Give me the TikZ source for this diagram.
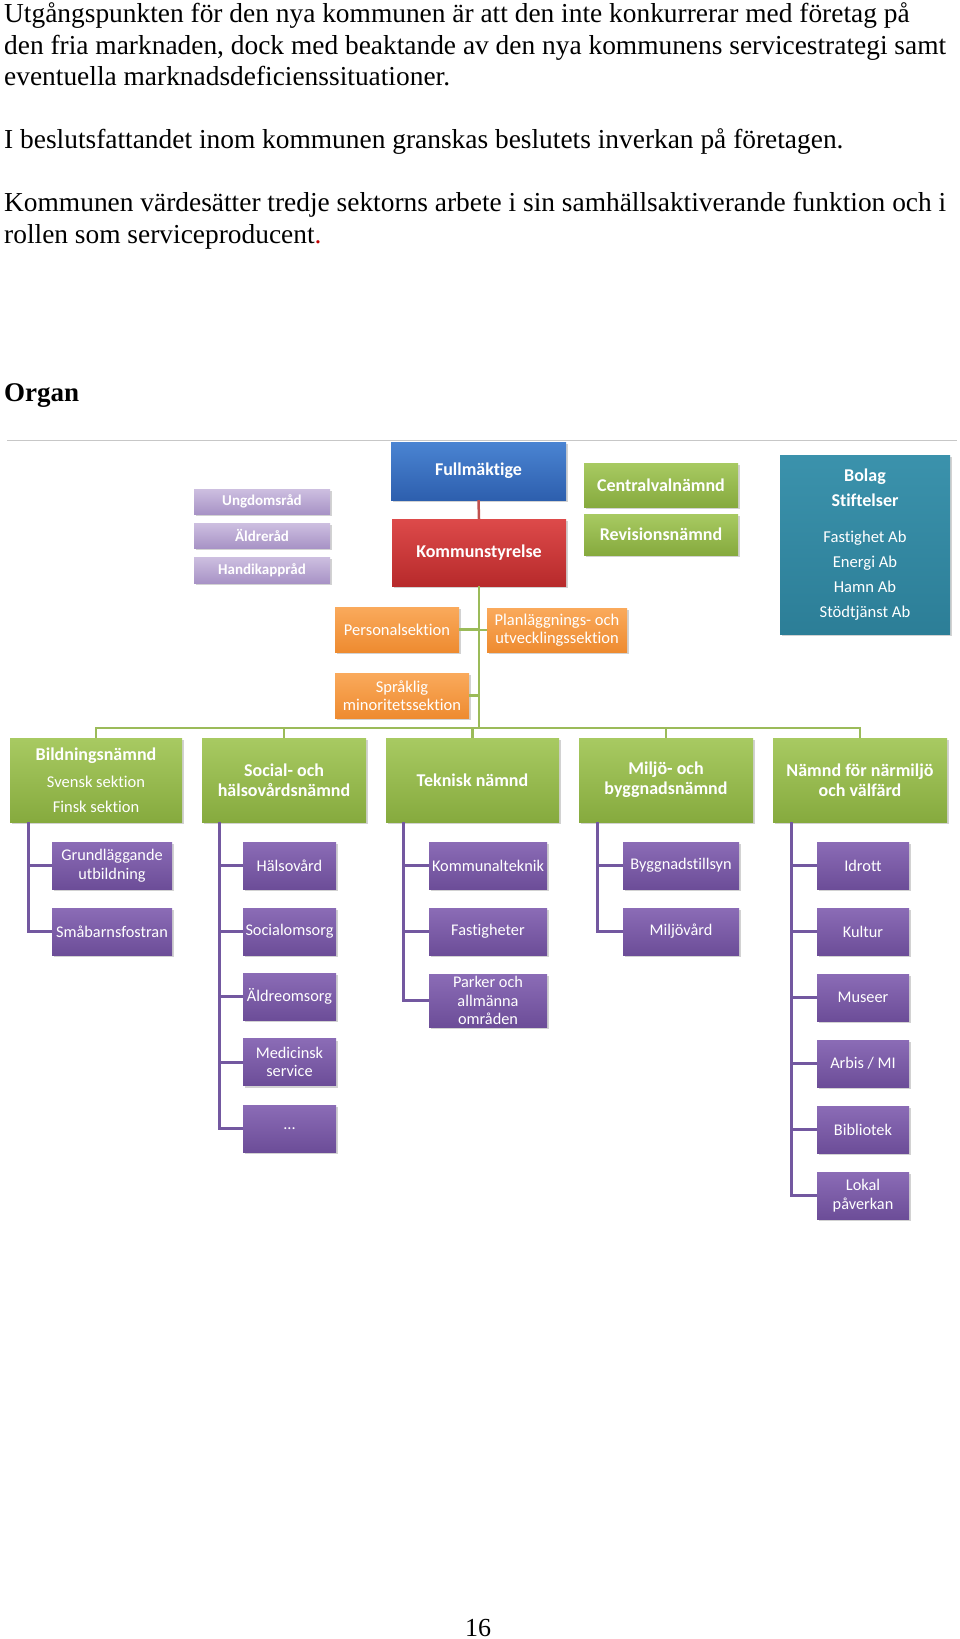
\documentclass[tikz,border=0pt]{standalone}
\usepackage{fontspec}
\setmainfont{Liberation Serif}
\newfontfamily\cbfont[Ligatures={NoCommon}]{Carlito}
\usetikzlibrary{shadows}
\definecolor{lavtop}{HTML}{CDBFE0}
\definecolor{lavbot}{HTML}{A893C6}
\definecolor{blutop}{HTML}{4A84D2}
\definecolor{blubot}{HTML}{2D5FAE}
\definecolor{redtop}{HTML}{DD4A4A}
\definecolor{redbot}{HTML}{B72A2B}
\definecolor{grntop}{HTML}{A8CA62}
\definecolor{grnbot}{HTML}{86AA3E}
\definecolor{orgtop}{HTML}{FAAA5C}
\definecolor{orgbot}{HTML}{EE8B30}
\definecolor{tealtop}{HTML}{3B92AC}
\definecolor{tealbot}{HTML}{2C7E97}
\definecolor{purtop}{HTML}{8B6CB6}
\definecolor{purbot}{HTML}{6C4D98}
\definecolor{purline}{HTML}{7358A0}
\definecolor{grnline}{HTML}{9BBB59}
\definecolor{redline}{HTML}{C0504D}
\definecolor{dotred}{HTML}{C00000}
\begin{document}
\begin{tikzpicture}[x=1pt,y=-1pt,
  body/.style={anchor=base west, inner sep=0pt, font=\fontsize{27.4}{31}\selectfont},
  box/.style={inner sep=1pt, align=center, text=white,
    drop shadow={opacity=0.35, shadow xshift=1.5pt, shadow yshift=-2pt}},
  lav/.style={box, top color=lavtop, bottom color=lavbot, font=\cbfont\bfseries\fontsize{15}{17}\selectfont},
  blu/.style={box, top color=blutop, bottom color=blubot, font=\cbfont\bfseries\fontsize{18}{20}\selectfont},
  rdb/.style={box, top color=redtop, bottom color=redbot, font=\cbfont\bfseries\fontsize{18}{20}\selectfont},
  grb/.style={box, top color=grntop, bottom color=grnbot, font=\cbfont\bfseries\fontsize{18}{20}\selectfont},
  orb/.style={box, top color=orgtop, bottom color=orgbot, font=\cbfont\fontsize{16.5}{18}\selectfont},
  tlb/.style={box, top color=tealtop, bottom color=tealbot, font=\cbfont\fontsize{16.6}{25}\selectfont},
  pub/.style={box, top color=purtop, bottom color=purbot, font=\cbfont\fontsize{16.3}{18.5}\selectfont},
  pline/.style={draw=purline, line width=3pt},
  gline/.style={draw=grnline, line width=2.5pt},
  rline/.style={draw=redline, line width=2.5pt}
]
\fill[white] (0,0) rectangle (960,1639);
\useasboundingbox (0,0) rectangle (960,1639);

% ---------- body text ----------
\node[body] (t1) at (4,22.5) {Utgångspunkten för den nya kommunen är att den inte konkurrerar med företag på};
\node[body] (t2) at (4,54) {den fria marknaden, dock med beaktande av den nya kommunens servicestrategi samt};
\node[body] (t3) at (4,85) {eventuella marknadsdeficienssituationer.};
\node[body] (t4) at (4,148.5) {I beslutsfattandet inom kommunen granskas beslutets inverkan på företagen.};
\node[body] (t5) at (4,211.5) {Kommunen värdesätter tredje sektorns arbete i sin samhällsaktiverande funktion och i};
\node[body] (t6) at (4,243) {rollen som serviceproducent\textcolor{dotred}{.}};
\node[body, font=\fontsize{27}{30}\selectfont\bfseries] (org) at (4,401.5) {Organ};
\node[anchor=base, inner sep=0pt, font=\fontsize{26}{30}\selectfont] (pg) at (478,1636) {16};

% gray rule
\coordinate (ruleA) at (7,440.5);
\coordinate (ruleB) at (957,440.5);
\draw[draw=black!22, line width=1.5pt] (ruleA) -- (ruleB);

% ---------- top level ----------
\node[lav, minimum width=136, minimum height=25] (ung) at (262,501.5) {Ungdomsråd};
\node[lav, minimum width=136, minimum height=25] (ald) at (262,535.5) {Äldreråd};
\node[lav, minimum width=136, minimum height=26] (hand) at (262,570) {Handikappråd};

\node[blu, minimum width=175, minimum height=58] (full) at (478.5,471) {Fullmäktige};
\node[rdb, minimum width=174, minimum height=67] (ks) at (479,552.5) {Kommunstyrelse};

\node[grb, minimum width=154, minimum height=44] (cvn) at (661,485) {Centralvalnämnd};
\node[grb, minimum width=154, minimum height=41] (rev) at (661,534.5) {Revisionsnämnd};

\node[tlb, minimum width=170, minimum height=179] (bolag) at (865,544.5)
  {{\bfseries\fontsize{18}{27}\selectfont Bolag}\\{\bfseries\fontsize{18}{27}\selectfont Stiftelser}\\[11pt]Fastighet Ab\\Energi Ab\\Hamn Ab\\Stödtjänst Ab};

\node[orb, minimum width=124, minimum height=45] (pers) at (397,629.5) {Personalsektion};
\node[orb, minimum width=140, minimum height=44] (plan) at (557,630) {Planläggnings- och\\utvecklingssektion};
\node[orb, minimum width=134, minimum height=45] (spr) at (402,695.5) {Språklig\\minoritetssektion};

% ---------- nämnder ----------
\node[grb, minimum width=172, minimum height=84] (bild) at (96,780)
  {Bildningsnämnd\\[7pt]{\mdseries\fontsize{16.5}{25}\selectfont Svensk sektion}\\[5pt]{\mdseries\fontsize{16.5}{25}\selectfont Finsk sektion}};
\node[grb, minimum width=164, minimum height=84] (soc) at (284,780) {Social- och\\hälsovårdsnämnd};
\node[grb, minimum width=173, minimum height=84] (tek) at (472.5,780) {Teknisk nämnd};
\node[grb, minimum width=174, minimum height=84] (milj) at (666,780) {Miljö- och\\byggnadsnämnd};
\node[grb, minimum width=174, minimum height=84] (narm) at (860,780) {Nämnd för närmiljö\\och välfärd};

% ---------- purple units ----------
\node[pub, minimum width=120, minimum height=47] (grund) at (112,865.5) {Grundläggande\\utbildning};
\node[pub, minimum width=120, minimum height=47] (smab) at (112,931.5) {Småbarnsfostran};

\node[pub, minimum width=93, minimum height=47] (hals) at (289.5,865.5) {Hälsovård};
\node[pub, minimum width=93, minimum height=47] (soco) at (289.5,931.5) {Socialomsorg};
\node[pub, minimum width=93, minimum height=47] (aldo) at (289.5,996.5) {Äldreomsorg};
\node[pub, minimum width=93, minimum height=47] (medi) at (289.5,1062) {Medicinsk\\service};
\node[pub, minimum width=93, minimum height=47] (etc) at (289.5,1128.5) {...};

\node[pub, minimum width=118, minimum height=47] (komt) at (488,865.5) {Kommunalteknik};
\node[pub, minimum width=118, minimum height=47] (fast) at (488,931.5) {Fastigheter};
\node[pub, minimum width=118, minimum height=53] (park) at (488,1000.5) {Parker och\\allmänna\\områden};

\node[pub, minimum width=116, minimum height=47] (bygg) at (681,865.5) {Byggnadstillsyn};
\node[pub, minimum width=116, minimum height=47] (miljv) at (681,931.5) {Miljövård};

\node[pub, minimum width=92, minimum height=47] (idr) at (863,865.5) {Idrott};
\node[pub, minimum width=92, minimum height=47] (kult) at (863,931.5) {Kultur};
\node[pub, minimum width=92, minimum height=47] (mus) at (863,997.5) {Museer};
\node[pub, minimum width=92, minimum height=47] (arb) at (863,1063.5) {Arbis / MI};
\node[pub, minimum width=92, minimum height=47] (bib) at (863,1129.5) {Bibliotek};
\node[pub, minimum width=92, minimum height=47] (lok) at (863,1195.5) {Lokal\\påverkan};

% ---------- connectors ----------
\draw[rline] (full.south) -- (ks.north);
\coordinate (busy) at (0,728);
\draw[gline] (ks.south) -- (ks.south |- busy);
\draw[gline] (pers.east) -- (pers.east -| ks.south);
\draw[gline] (plan.west) -- (plan.west -| ks.south);
\draw[gline] (spr.east) -- (spr.east -| ks.south);
\foreach \n in {bild,soc,tek,milj,narm}
  \draw[gline] (ks.south |- busy) -| (\n.north);

\coordinate (c1) at (28,822);
\coordinate (c2) at (219,822);
\coordinate (c3) at (403,822);
\coordinate (c4) at (597,822);
\coordinate (c5) at (791,822);
\foreach \n in {grund,smab} \draw[pline] (c1) |- (\n.west);
\foreach \n in {hals,soco,aldo,medi,etc} \draw[pline] (c2) |- (\n.west);
\foreach \n in {komt,fast,park} \draw[pline] (c3) |- (\n.west);
\foreach \n in {bygg,miljv} \draw[pline] (c4) |- (\n.west);
\foreach \n in {idr,kult,mus,arb,bib,lok} \draw[pline] (c5) |- (\n.west);
\end{tikzpicture}
\end{document}
